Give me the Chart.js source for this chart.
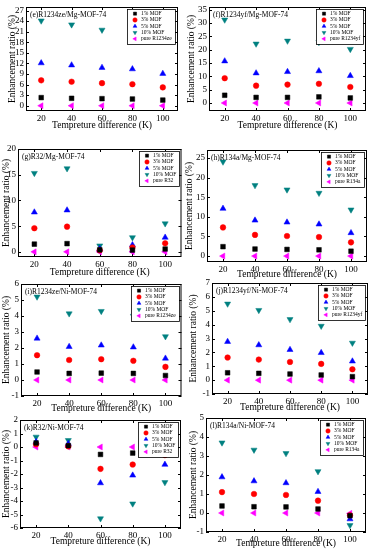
<!DOCTYPE html>
<html><head><meta charset="utf-8">
<script src="https://cdn.jsdelivr.net/npm/chart.js@4/dist/chart.umd.min.js"></script>
<style>
html,body{margin:0;padding:0;background:#fff;}
body{width:373px;height:550px;position:relative;overflow:hidden;}
canvas{position:absolute;}
</style></head><body>
<canvas id="pe"></canvas><canvas id="pf"></canvas>
<canvas id="pg"></canvas><canvas id="ph"></canvas>
<canvas id="pi"></canvas><canvas id="pj"></canvas>
<canvas id="pk"></canvas><canvas id="pl"></canvas>
<script>
// ---- shared categories / labels ----
const temps = [20, 40, 60, 80, 100];
const xTicks = [20, 40, 60, 80, 100];
const seriesLabels = ['1% MOF', '3% MOF', '5% MOF', '10% MOF'];
const xTitle = 'Tempreture difference (K)';
const yTitle = 'Enhancement ratio (%)';

// ---- (e) R1234ze/Mg-MOF-74 ----
const e1 = [2.3, 2.1, 2.0, 1.9, 1.6];
const e3 = [7.2, 6.8, 6.4, 6.1, 5.2];
const e5 = [12.1, 11.5, 10.8, 10.4, 9.1];
const e10 = [24.1, 23.0, 21.5, 20.8, 19.5];
const ePure = [0, 0, 0, 0, 0];
const eTicks = [0, 3, 6, 9, 12, 15, 18, 21, 24, 27];

// ---- (f) R1234yf/Mg-MOF-74 ----
const f1 = [2.9, 2.1, 2.1, 2.3, 1.9];
const f3 = [9.3, 6.5, 6.9, 7.2, 6.0];
const f5 = [15.7, 11.2, 11.7, 12.0, 10.2];
const f10 = [31.2, 22.2, 23.3, 22.8, 20.2];
const fPure = [0, 0, 0, 0, 0];
const fTicks = [0, 5, 10, 15, 20, 25, 30, 35];

// ---- (g) R32/Mg-MOF-74 ----
const g1 = [1.5, 1.6, 0.4, 0.35, 0.55];
const g3 = [4.6, 4.9, 0.3, 0.85, 1.65];
const g5 = [7.7, 8.1, 0.55, 1.35, 2.8];
const g10 = [15.3, 16.2, 1.2, 2.8, 5.5];
const gPure = [0, 0, 0, 0, 0];
const gTicks = [0, 5, 10, 15, 20];

// ---- (h) R134a/Mg-MOF-74 ----
const h1 = [2.4, 1.8, 1.7, 1.6, 1.25];
const h3 = [7.3, 5.4, 5.1, 4.85, 3.5];
const h5 = [12.1, 9.1, 8.6, 8.1, 5.9];
const h10 = [24.0, 18.0, 16.9, 16.05, 11.8];
const hPure = [0, 0, 0, 0, 0];
const hTicks = [0, 5, 10, 15, 20, 25];

// ---- (i) R1234ze/Ni-MOF-74 ----
const i1 = [0.5, 0.41, 0.43, 0.41, 0.28];
const i3 = [1.55, 1.25, 1.3, 1.2, 0.82];
const i5 = [2.6, 2.08, 2.17, 2.05, 1.35];
const i10 = [5.2, 4.15, 4.3, 4.0, 2.72];
const iPure = [0, 0, 0, 0, 0];
const iTicks = [-1, 0, 1, 2, 3, 4, 5, 6];

// ---- (j) R1234yf/Ni-MOF-74 ----
const j1 = [0.53, 0.49, 0.44, 0.37, 0.25];
const j3 = [1.63, 1.48, 1.31, 1.17, 0.78];
const j5 = [2.77, 2.53, 2.19, 1.97, 1.36];
const j10 = [5.5, 5.04, 4.38, 3.9, 2.68];
const jPure = [0, 0, 0, 0, 0];
const jTicks = [-1, 0, 1, 2, 3, 4, 5, 6, 7];

// ---- (k) R32/Ni-MOF-74 ----
const k1 = [0.3, 0.1, -0.55, -0.45, -0.3];
const k3 = [0.2, 0.05, -1.62, -1.3, -0.6];
const k5 = [0.38, 0.25, -2.67, -2.1, -1.3];
const k10 = [0.75, 0.5, -5.3, -4.2, -2.62];
const kPure = [0, 0, 0, 0, 0];
const kTicks = [-6, -5, -4, -3, -2, -1, 0, 1, 2];

// ---- (l) R134a/Ni-MOF-74 ----
const l1 = [0.37, 0.33, 0.32, 0.21, -0.14];
const l3 = [1.1, 1.0, 0.95, 0.65, -0.12];
const l5 = [1.89, 1.68, 1.58, 1.12, -0.32];
const l10 = [3.7, 3.32, 3.14, 2.19, -0.65];
const lPure = [0, 0, 0, 0, -0.02];
const lTicks = [-1, 0, 1, 2, 3, 4, 5];

// ---- panels ----
const panels = [
  {id:'pe', title:'(e)R1234ze/Mg-MOF-74', pure:'pure R1234ze', s:[e1,e3,e5,e10,ePure], ticks:eTicks, ymin:-1.5, ymax:28,
   col:0, L:26, T:7, R:178, B:111, xt:126, yt:12},
  {id:'pf', title:'(f)R1234yf/Mg-MOF-74', pure:'pure R1234yf', s:[f1,f3,f5,f10,fPure], ticks:fTicks, ymin:-3, ymax:36,
   col:1, L:209, T:7, R:366, B:111, xt:126, yt:191},
  {id:'pg', title:'(g)R32/Mg-MOF-74', pure:'pure R32', s:[g1,g3,g5,g10,gPure], ticks:gTicks, ymin:-1, ymax:20,
   col:0, L:18, T:149, R:182, B:257, xt:273, yt:6},
  {id:'ph', title:'(h)R134a/Mg-MOF-74', pure:'pure R134a', s:[h1,h3,h5,h10,hPure], ticks:hTicks, ymin:-1.5, ymax:27,
   col:1, L:207, T:150, R:367, B:262, xt:275, yt:189},
  {id:'pi', title:'(i)R1234ze/Ni-MOF-74', pure:'pure R1234ze', s:[i1,i3,i5,i10,iPure], ticks:iTicks, ymin:-1, ymax:6,
   col:0, L:21, T:284, R:183, B:396, xt:409, yt:6},
  {id:'pj', title:'(j)R1234yf/Ni-MOF-74', pure:'pure R1234yf', s:[j1,j3,j5,j10,jPure], ticks:jTicks, ymin:-1, ymax:7,
   col:1, L:212, T:283, R:368, B:394, xt:408, yt:193},
  {id:'pk', title:'(k)R32/Ni-MOF-74', pure:'pure R32', s:[k1,k3,k5,k10,kPure], ticks:kTicks, ymin:-6, ymax:2,
   col:0, L:20, T:420, R:181, B:528, xt:542, yt:6},
  {id:'pl', title:'(l)R134a/Ni-MOF-74', pure:'pure R134a', s:[l1,l3,l5,l10,lPure], ticks:lTicks, ymin:-1, ymax:5,
   col:1, L:206, T:418, R:366, B:532, xt:544, yt:193}
];

const styles = [
  {pointStyle:'rect', rotation:0, radius:3.3, color:'#000000'},
  {pointStyle:'circle', rotation:0, radius:2.8, color:'#ff0000'},
  {pointStyle:'triangle', rotation:0, radius:3.5, color:'#0000ff'},
  {pointStyle:'triangle', rotation:180, radius:3.5, color:'#008080'},
  {pointStyle:'triangle', rotation:-90, radius:3.5, color:'#ff00ff'}
];

const FAMILY = '"Liberation Serif", "Times New Roman", serif';
const tickFont = {family: FAMILY, size: 9, lineHeight: 1.1};
const titleFont = {family: FAMILY, size: 9.5, lineHeight: 1.1};

const framePlugin = {
  id: 'frame',
  beforeDatasetsDraw(chart) {
    const {ctx, chartArea: a, scales} = chart;
    ctx.save();
    ctx.strokeStyle = '#000'; ctx.lineWidth = 1;
    ctx.strokeRect(a.left + 0.5, a.top + 0.5, a.right - a.left - 1, a.bottom - a.top - 1);
    ctx.beginPath();
    scales.x.ticks.forEach(t => {
      const x = Math.round(scales.x.getPixelForValue(t.value)) + 0.5;
      ctx.moveTo(x, a.bottom); ctx.lineTo(x, a.bottom - 3);
      ctx.moveTo(x, a.top); ctx.lineTo(x, a.top + 3);
    });
    scales.y.ticks.forEach(t => {
      const y = Math.round(scales.y.getPixelForValue(t.value)) + 0.5;
      ctx.moveTo(a.left, y); ctx.lineTo(a.left + 3, y);
      ctx.moveTo(a.right, y); ctx.lineTo(a.right - 3, y);
    });
    ctx.stroke();
    ctx.restore();
  }
};

const labelPlugin = {
  id: 'panelLabel',
  afterDatasetsDraw(chart, args, opts) {
    const {ctx, chartArea: a} = chart;
    ctx.save();
    ctx.font = '7.5px ' + FAMILY;
    ctx.fillStyle = '#000';
    ctx.textBaseline = 'middle';
    ctx.textAlign = 'left';
    ctx.fillText(opts.text, a.left + 4, a.top + 8);
    ctx.restore();
  }
};

const boxLegendPlugin = {
  id: 'boxLegend',
  afterDatasetsDraw(chart) {
    const {ctx, chartArea: a} = chart;
    const dss = chart.data.datasets;
    ctx.save();
    ctx.font = '5.5px ' + FAMILY;
    let tw = 0;
    dss.forEach(d => { tw = Math.max(tw, ctx.measureText(d.label).width); });
    const rowH = 6.3;
    const w = Math.round(tw + 17), h = Math.round(rowH * dss.length + 3);
    const x0 = Math.round(a.right - 3 - w), y0 = Math.round(a.top + 2);
    ctx.fillStyle = '#fff';
    ctx.fillRect(x0, y0, w, h);
    ctx.strokeStyle = '#000'; ctx.lineWidth = 0.8;
    ctx.strokeRect(x0 + 0.5, y0 + 0.5, w, h);
    dss.forEach((d, i) => {
      const cy = y0 + 1.5 + rowH * (i + 0.5);
      ctx.fillStyle = d.backgroundColor; ctx.strokeStyle = d.borderColor; ctx.lineWidth = 0.5;
      Chart.helpers.drawPoint(ctx, {pointStyle: d.pointStyle, rotation: d.rotation, radius: 2.2, borderWidth: 0.5}, x0 + 8, cy);
      ctx.fillStyle = '#000';
      ctx.textBaseline = 'middle'; ctx.textAlign = 'left';
      ctx.fillText(d.label, x0 + 14, cy);
    });
    ctx.restore();
  }
};

panels.forEach(p => {
  const canvas = document.getElementById(p.id);
  const cx = p.col ? 184 : 0, cw = p.col ? 189 : 186;
  const cy = p.T - 12, ch = p.xt + 7 - cy;
  canvas.style.left = cx + 'px'; canvas.style.top = cy + 'px';
  canvas.style.width = cw + 'px'; canvas.style.height = ch + 'px';
  canvas.width = cw; canvas.height = ch;
  const labels = seriesLabels.concat([p.pure]);
  const datasets = p.s.map((vals, k) => ({
    label: labels[k],
    data: temps.map((t, n) => ({x: t, y: vals[n]})).filter(o => o.y !== null),
    pointStyle: styles[k].pointStyle,
    rotation: styles[k].rotation,
    pointRadius: styles[k].radius,
    backgroundColor: styles[k].color,
    borderColor: styles[k].color,
    borderWidth: 0.5,
    showLine: false
  }));
  new Chart(canvas, {
    type: 'scatter',
    data: {datasets},
    options: {
      responsive: false,
      animation: false,
      devicePixelRatio: 1,
      layout: {padding: {top: p.T - cy, right: cx + cw - p.R, left: 0, bottom: 0}},
      plugins: {
        legend: {display: false},
        tooltip: {enabled: false},
        panelLabel: {text: p.title}
      },
      scales: {
        x: {
          type: 'linear', min: 10, max: 110,
          afterBuildTicks: s => { s.ticks = xTicks.map(v => ({value: v})); },
          afterFit: s => { s.height = cy + ch - p.B; },
          grid: {display: false, drawTicks: false},
          border: {display: false},
          ticks: {font: tickFont, color: '#000', padding: 3, maxRotation: 0, autoSkip: false},
          title: {display: true, text: xTitle, font: titleFont, color: '#000', padding: {top: 0, bottom: 2}}
        },
        y: {
          type: 'linear', min: p.ymin, max: p.ymax,
          afterBuildTicks: s => { s.ticks = p.ticks.map(v => ({value: v})); },
          afterFit: s => { s.width = p.L - cx; },
          grid: {display: false, drawTicks: false},
          border: {display: false},
          ticks: {font: tickFont, color: '#000', padding: 2, autoSkip: false},
          title: {display: true, text: yTitle, font: titleFont, color: '#000', padding: {top: p.yt - cx - 5, bottom: 0}}
        }
      }
    },
    plugins: [framePlugin, boxLegendPlugin, labelPlugin]
  });
});
</script>
</body></html>
